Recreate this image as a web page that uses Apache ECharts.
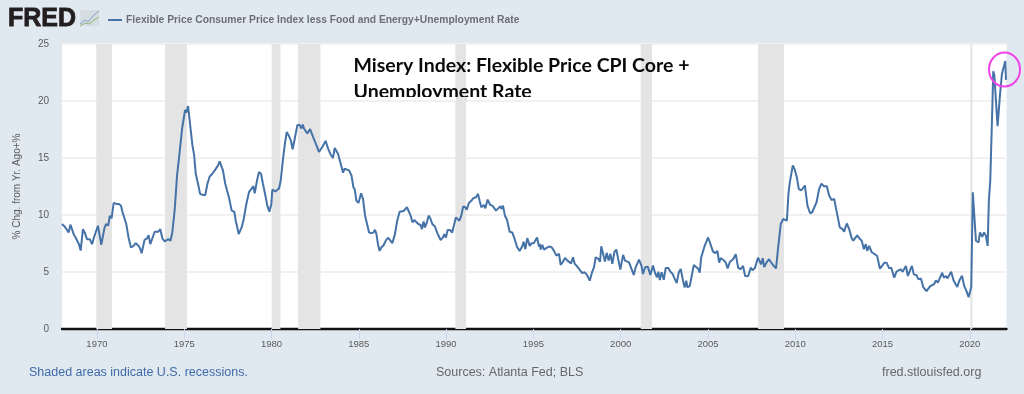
<!DOCTYPE html>
<html><head><meta charset="utf-8">
<style>html,body{margin:0;padding:0;background:#e1e9f0}#c{width:1024px;height:394px}</style>
<script src="https://cdn.jsdelivr.net/npm/echarts@6/dist/echarts.min.js"></script>
</head><body><div id="c"></div>
<script>
const seriesName = "Flexible Price Consumer Price Index less Food and Energy+Unemployment Rate";
const years = [
1968.00,1968.10,1968.15,1968.25,1968.38,1968.48,1968.55,1968.69,1968.78,1968.88,1968.97,1969.07,1969.20,1969.30,1969.43,1969.59,1969.72,1969.83,1969.92,1970.06,1970.25,1970.44,1970.53,1970.65,1970.74,1970.84,1970.96,1971.11,1971.26,1971.38,1971.46,1971.55,1971.68,1971.81,1971.95,1972.10,1972.22,1972.35,1972.45,1972.56,1972.73,1972.87,1972.96,1973.06,1973.31,1973.40,1973.52,1973.63,1973.75,1973.88,1973.98,1974.09,1974.21,1974.32,1974.46,1974.59,1974.74,1974.88,1975.05,1975.13,1975.22,1975.32,1975.47,1975.57,1975.66,1975.79,1975.91,1975.98,1976.08,1976.21,1976.33,1976.46,1976.61,1976.75,1976.94,1977.03,
1977.13,1977.22,1977.35,1977.45,1977.56,1977.72,1977.87,1977.95,1978.02,1978.12,1978.29,1978.41,1978.56,1978.71,1978.88,1978.96,1979.04,1979.17,1979.28,1979.40,1979.51,1979.65,1979.76,1979.88,1979.99,1980.05,1980.14,1980.22,1980.32,1980.43,1980.53,1980.66,1980.77,1980.87,1981.00,1981.12,1981.21,1981.31,1981.39,1981.48,1981.61,1981.71,1981.79,1981.86,1981.96,1982.05,1982.15,1982.21,1982.28,1982.38,1982.47,1982.61,1982.72,1982.80,1982.91,1983.10,1983.24,1983.39,1983.52,1983.62,1983.72,1983.81,1983.91,1984.10,1984.19,1984.29,1984.44,1984.58,1984.69,1984.77,1984.86,1984.98,1985.05,1985.13,1985.24,1985.36,1985.43,1985.59,1985.72,1985.84,1985.93,1986.01,1986.10,
1986.19,1986.29,1986.42,1986.57,1986.69,1986.80,1986.92,1987.07,1987.20,1987.34,1987.45,1987.57,1987.68,1987.76,1987.85,1987.97,1988.08,1988.18,1988.29,1988.41,1988.54,1988.62,1988.71,1988.79,1988.90,1989.00,1989.09,1989.21,1989.36,1989.48,1989.57,1989.69,1989.82,1989.90,1989.99,1990.09,1990.22,1990.35,1990.43,1990.56,1990.64,1990.76,1990.87,1990.98,1991.10,1991.18,1991.31,1991.44,1991.56,1991.63,1991.71,1991.83,1991.92,1992.02,1992.11,1992.17,1992.25,1992.38,1992.53,1992.65,1992.72,1992.86,1992.97,1993.10,1993.18,1993.26,1993.37,1993.49,1993.64,1993.79,1993.93,1994.06,1994.21,1994.37,1994.44,1994.54,1994.65,1994.79,1994.90,1995.02,1995.13,1995.21,1995.32,
1995.36,1995.42,1995.51,1995.61,1995.74,1995.89,1996.05,1996.20,1996.32,1996.47,1996.56,1996.70,1996.81,1996.95,1997.06,1997.16,1997.27,1997.37,1997.50,1997.65,1997.79,1997.94,1998.07,1998.23,1998.36,1998.47,1998.57,1998.72,1998.82,1998.89,1998.99,1999.10,1999.20,1999.31,1999.41,1999.52,1999.64,1999.75,1999.89,1999.98,2000.14,2000.25,2000.36,2000.48,2000.59,2000.75,2000.86,2000.94,2001.05,2001.19,2001.28,2001.40,2001.55,2001.70,2001.85,2001.97,2002.08,2002.16,2002.24,2002.35,2002.47,2002.58,2002.73,2002.85,2002.98,2003.06,2003.21,2003.33,2003.44,2003.57,2003.67,2003.76,2003.82,2003.96,2004.07,2004.19,2004.30,2004.45,
2004.53,2004.61,2004.80,2004.91,2005.01,2005.12,2005.29,2005.43,2005.54,2005.64,2005.73,2005.91,2006.02,2006.13,2006.25,2006.44,2006.59,2006.73,2006.86,2007.01,2007.13,2007.30,2007.45,2007.55,2007.68,2007.87,2007.97,2008.04,2008.14,2008.22,2008.35,2008.50,2008.69,2008.90,2009.02,2009.17,2009.31,2009.42,2009.52,2009.61,2009.69,2009.86,2009.97,2010.09,2010.20,2010.34,2010.45,2010.55,2010.70,2010.76,2010.85,2010.97,2011.08,2011.22,2011.37,2011.50,2011.64,2011.81,2011.94,2012.08,2012.23,2012.36,2012.55,2012.71,2012.80,2012.95,2013.09,2013.22,2013.32,2013.43,2013.55,2013.66,
2013.70,2013.81,2013.93,2014.04,2014.12,2014.23,2014.39,2014.56,2014.69,2014.85,2014.96,2015.11,2015.23,2015.38,2015.50,2015.67,2015.80,2016.03,2016.15,2016.34,2016.45,2016.68,2016.79,2016.95,2017.06,2017.20,2017.33,2017.52,2017.62,2017.73,2017.94,2018.06,2018.17,2018.42,2018.51,2018.63,2018.72,2018.93,2019.07,2019.18,2019.28,2019.39,2019.55,2019.68,2019.81,2019.93,2020.08,2020.17,2020.35,2020.50,2020.58,2020.71,2020.81,2020.92,2021.02,2021.09,2021.17,2021.29,2021.34,2021.40,2021.59,2021.72,2021.84,2022.03,2022.07];
const values = [
9.21,9.29,9.0,8.85,8.47,9.15,8.85,8.24,8.03,8.18,7.44,6.88,8.76,8.47,7.88,7.88,7.44,8.03,8.03,9.06,7.38,8.91,9.21,9.06,9.94,9.71,11.06,10.97,10.97,10.82,10.29,10.38,9.21,8.03,7.15,7.29,7.53,7.35,7.15,6.65,7.82,7.94,8.24,7.44,8.53,8.41,8.53,8.76,7.94,7.68,7.56,7.88,7.74,8.47,10.53,13.47,15.53,17.59,19.21,19.0,19.56,18.18,16.12,15.24,13.62,12.74,11.85,12.0,11.76,11.76,12.74,13.38,13.62,13.91,14.35,14.7,
14.79,13.91,12.74,12.59,11.56,10.38,10.29,9.5,9.06,8.32,8.91,9.65,10.97,12.0,12.35,12.53,11.91,13.03,13.76,13.62,12.74,11.71,10.82,10.29,10.97,12.24,12.26,12.06,12.18,12.32,13.03,14.94,16.26,17.29,16.94,16.47,15.76,15.88,17.15,17.88,17.91,17.59,17.94,17.59,17.53,17.15,17.24,17.53,17.5,16.85,16.71,15.97,15.53,15.47,15.97,16.5,15.82,15.29,15.0,15.88,15.82,15.38,15.24,13.71,14.06,14.12,13.91,13.47,12.44,12.24,11.26,11.06,11.06,11.91,11.41,9.94,9.79,8.47,8.41,8.47,8.71,8.32,7.44,
6.85,7.15,7.35,7.82,8.0,7.94,7.53,8.32,9.5,10.29,10.41,10.35,10.38,10.68,10.53,9.94,9.35,9.56,9.5,9.21,9.12,8.76,9.44,8.91,9.35,9.94,9.74,9.21,9.0,8.47,8.18,7.79,8.03,8.32,8.03,8.68,8.68,8.47,8.41,9.79,9.79,9.5,9.94,10.76,10.68,10.47,11.06,11.24,11.47,11.35,11.56,11.85,11.26,10.68,10.59,10.88,10.59,11.35,10.88,10.82,10.76,10.38,10.47,10.76,10.53,10.82,9.94,9.59,8.53,8.47,7.88,7.21,6.85,7.29,7.65,7.0,7.97,7.29,7.53,7.53,7.65,8.03,7.24,
7.47,6.97,7.38,6.97,7.09,7.24,7.18,6.79,6.44,6.59,5.62,5.91,6.24,6.0,6.15,5.76,6.29,5.71,5.5,5.21,4.91,4.97,4.74,4.24,4.97,5.41,6.29,6.15,5.91,7.26,7.09,5.91,6.68,6.0,6.59,5.71,6.74,6.97,5.91,5.21,6.5,6.0,6.09,5.85,5.71,4.74,5.41,5.32,6.09,5.56,4.82,5.41,5.47,4.74,5.56,4.91,4.53,5.03,4.29,4.97,4.32,5.35,5.35,5.03,4.82,4.53,4.03,4.97,5.26,4.24,3.65,4.24,3.65,3.79,3.94,5.62,5.5,5.26,
4.94,6.26,7.24,7.29,8.03,8.03,6.79,6.65,6.85,5.82,6.21,6.03,5.82,5.32,5.88,6.12,6.56,5.38,5.24,5.53,4.65,4.62,5.38,5.15,5.32,6.26,6.35,5.68,6.21,5.44,5.82,6.12,5.68,5.32,7.15,9.21,9.65,9.74,9.5,11.85,12.88,14.35,14.0,13.32,12.29,12.15,12.29,12.59,10.82,10.97,10.15,10.24,10.24,11.12,12.29,12.74,12.53,12.53,11.71,11.32,11.41,10.38,8.91,8.76,8.53,9.26,8.76,8.03,7.74,7.97,8.21,7.97,
7.88,7.74,7.0,7.44,6.85,7.29,6.71,6.56,6.41,5.29,5.44,5.82,5.82,5.32,5.38,4.5,5.03,5.24,5.03,5.53,4.65,5.53,4.79,4.71,4.35,4.44,3.68,3.32,3.18,3.76,3.91,4.26,4.06,4.94,4.5,4.65,4.44,5.03,4.26,4.21,3.68,4.21,4.68,3.76,3.32,2.79,3.68,12.0,7.74,7.59,8.47,8.09,8.47,8.18,7.29,11.26,13.03,19.5,22.6,22.3,17.8,20.4,22.4,23.5,21.85];
const recessionStarts = [1969.96,1973.90,1980.01,1981.52,1990.53,2001.15,2007.87,2020.03];
const recessionEnds   = [1970.86,1975.16,1980.51,1982.80,1991.14,2001.80,2009.36,2020.15];
const xTicks = [1970,1975,1980,1985,1990,1995,2000,2005,2010,2015,2020];
const yTicks = [0,5,10,15,20,25];

const SANS = '"Liberation Sans", Arial, sans-serif';
const chart = echarts.init(document.getElementById('c'), null, {renderer:'canvas'});
chart.setOption({
  animation:false,
  backgroundColor:'#e1e9f0',
  legend:{
    left:103, top:10, itemWidth:14, itemHeight:2, itemGap:4,
    icon:'rect',
    data:[seriesName],
    textStyle:{fontFamily:SANS,fontSize:10.3,fontWeight:'bold',color:'#6a6f75',padding:[0,0,0,-1]}
  },
  grid:{left:62,right:17.5,top:44,bottom:65,show:true,backgroundColor:'#fff',borderWidth:0},
  xAxis:{
    type:'value',min:1968,max:2022.1,
    axisLine:{show:true,onZero:true,lineStyle:{color:'#111',width:2.4}},
    axisTick:{show:true,length:10,customValues:xTicks,lineStyle:{color:'#ccd6eb',width:1}},
    axisLabel:{customValues:xTicks,margin:10,color:'#5a5a5a',fontFamily:SANS,fontSize:9.5,formatter:v=>String(v)},
    splitLine:{show:false}
  },
  yAxis:{
    type:'value',min:0,max:25,interval:5,
    name:'% Chg. from Yr. Ago+%',nameLocation:'middle',nameGap:40,
    nameTextStyle:{color:'#5a5a5a',fontFamily:SANS,fontSize:10},
    axisLine:{show:false},axisTick:{show:false},
    axisLabel:{margin:13,color:'#5a5a5a',fontFamily:SANS,fontSize:10,formatter:v=>yTicks.includes(v)?String(v):''},
    splitLine:{show:true,lineStyle:{color:'#f1f1f1',width:2}}
  },
  series:[{
    name:seriesName,type:'line',showSymbol:false,symbol:'none',smooth:false,
    lineStyle:{color:'#4572a7',width:2},itemStyle:{color:'#4572a7'},
    data:years.map((y,i)=>[y,values[i]]),
    markArea:{silent:true,itemStyle:{color:'#e4e4e4'},
      data:recessionStarts.map((s,i)=>[{xAxis:s},{xAxis:recessionEnds[i]}])}
  }],
  graphic:[
    {type:'text',left:7.5,top:6,style:{text:'FRED',fontFamily:SANS,fontWeight:'bold',fontSize:25,fill:'#231f20',stroke:'#231f20',lineWidth:0.8}},
    {type:'rect',shape:{x:80,y:10,width:19,height:16},style:{fill:'#d5dde3'},z:5},
    {type:'polyline',shape:{points:[[80,24],[85,20],[88,22],[93,16],[99,11]]},style:{stroke:'#7fa0c8',lineWidth:1,fill:null},z:6},
    {type:'polyline',shape:{points:[[80,26],[85,23],[89,24],[94,20],[99,17]]},style:{stroke:'#8fb573',lineWidth:1,fill:null},z:6},
    {type:'text',left:353.5,top:56,z:20,style:{text:'Misery Index: Flexible Price CPI Core +',fontFamily:'Lato',fontWeight:'bold',fontSize:19.5,fill:'#0a0a0a'}},
    {type:'text',left:353.5,top:81.5,z:20,style:{text:'Unemployment Rate',fontFamily:'Lato',fontWeight:'bold',fontSize:19.5,fill:'#0a0a0a'}},
    {type:'rect',shape:{x:352,y:97,width:104,height:3},style:{fill:'#fff'},z:21},
    {type:'rect',shape:{x:456,y:97,width:11,height:5},style:{fill:'#e4e4e4'},z:21},
    {type:'rect',shape:{x:467,y:97,width:73,height:3},style:{fill:'#fff'},z:21},
    {type:'rect',shape:{x:352,y:100,width:104,height:2},style:{fill:'#f1f1f1'},z:21},
    {type:'rect',shape:{x:467,y:100,width:73,height:2},style:{fill:'#f1f1f1'},z:21},
    {type:'ellipse',shape:{cx:1004.5,cy:69.5,rx:15.5,ry:17},style:{stroke:'#ee44e8',lineWidth:2,fill:null},z:22},
    {type:'text',left:29,top:366,style:{text:'Shaded areas indicate U.S. recessions.',fontFamily:SANS,fontSize:12.5,fill:'#3e6ba8'}},
    {type:'text',left:436,top:366,style:{text:'Sources: Atlanta Fed; BLS',fontFamily:SANS,fontSize:12.5,fill:'#666'}},
    {type:'text',left:882,top:366,style:{text:'fred.stlouisfed.org',fontFamily:SANS,fontSize:12.5,fill:'#666'}}
  ]
});
</script></body></html>
